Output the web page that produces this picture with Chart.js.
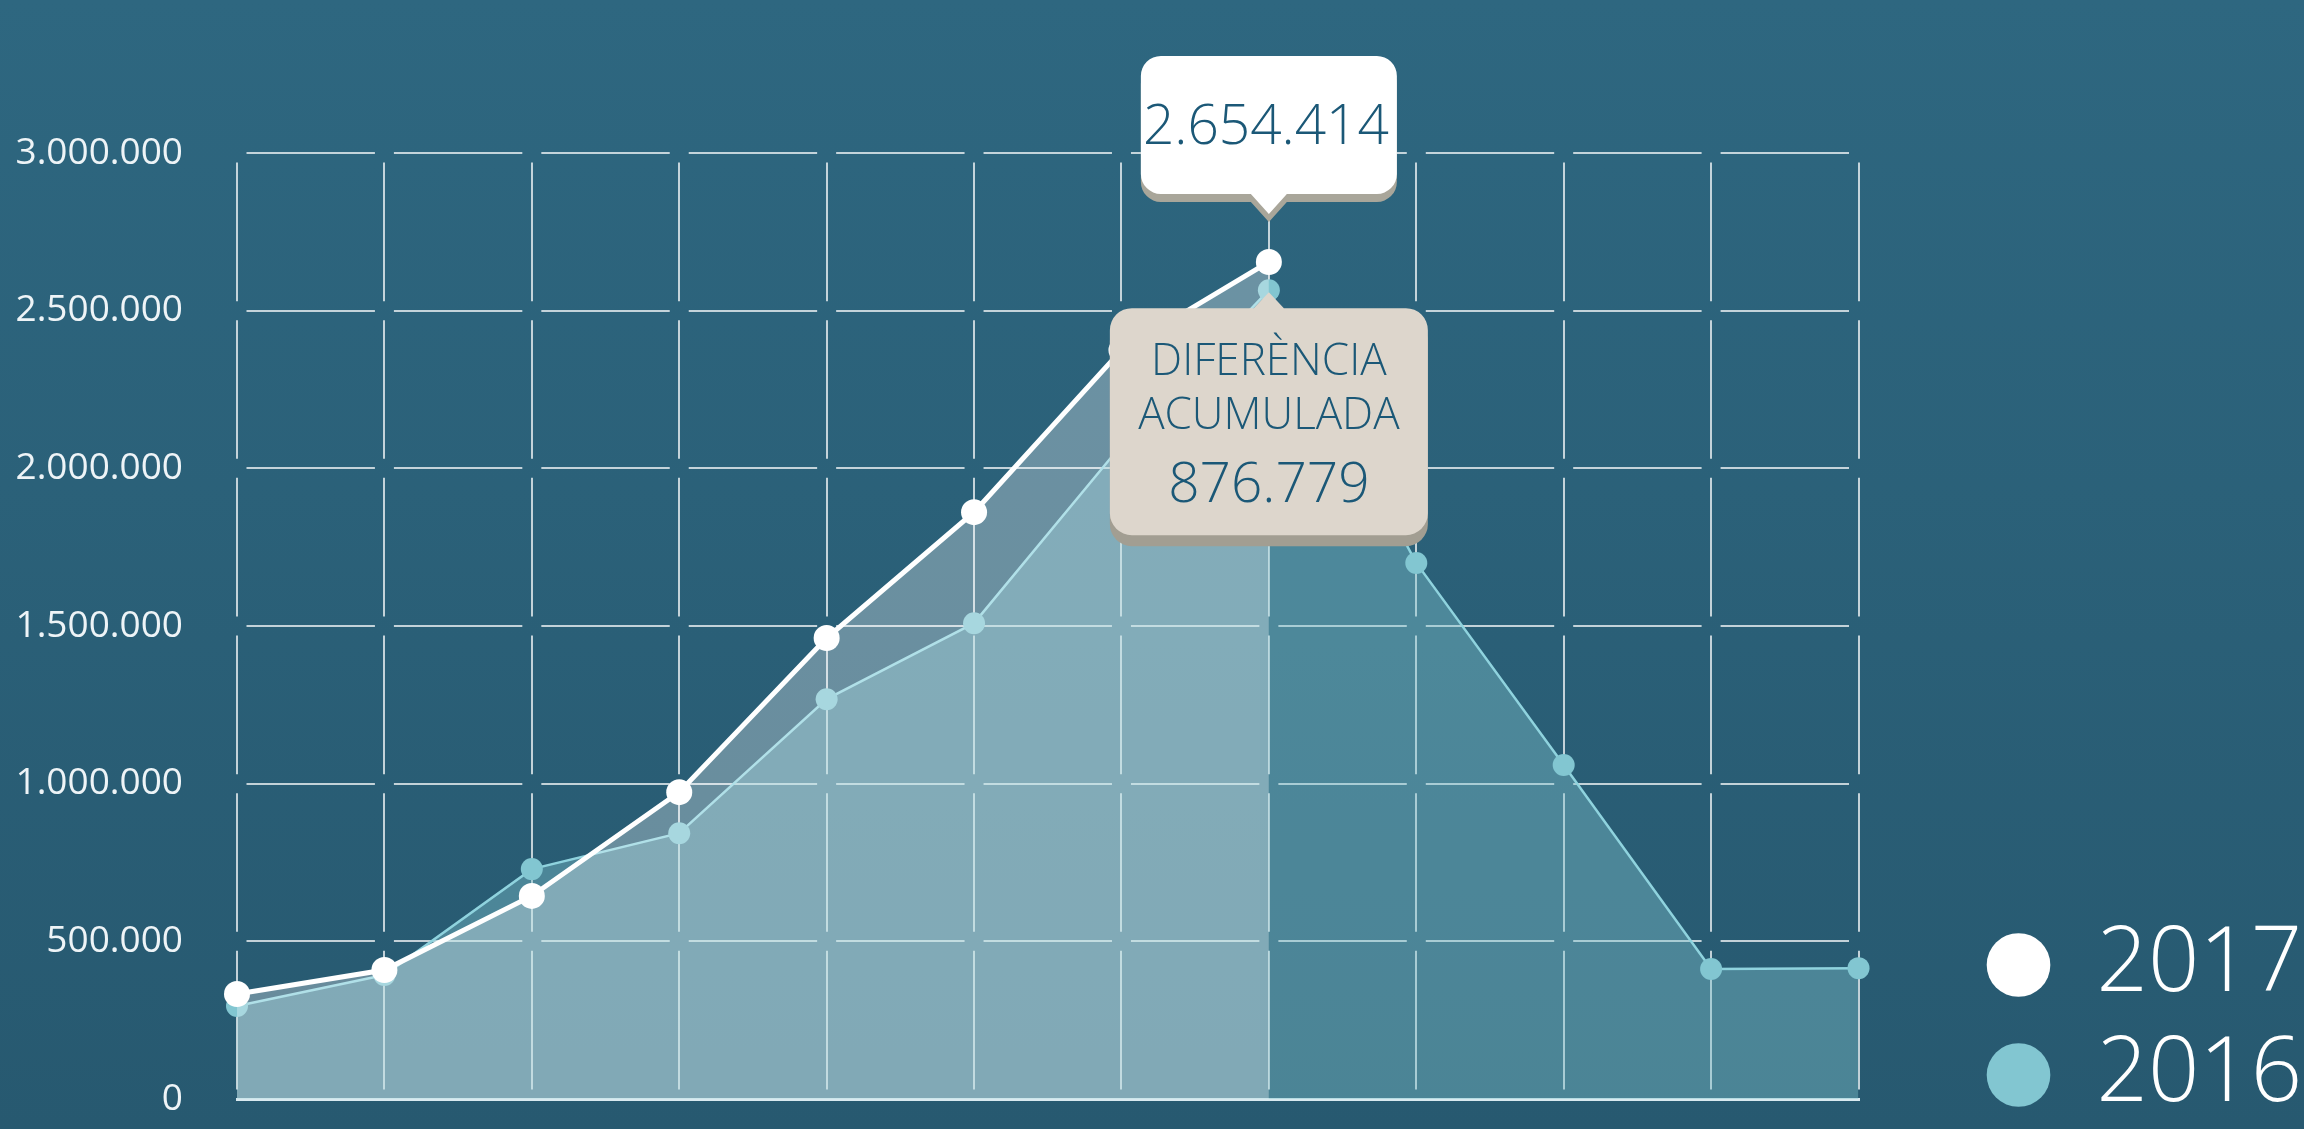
<!DOCTYPE html>
<html lang="ca">
<head>
<meta charset="UTF-8">
<title>Diferència acumulada 2017 / 2016</title>
<script src="https://cdn.jsdelivr.net/npm/chart.js"></script>
<style>
    html, body { margin: 0; padding: 0; overflow: hidden; }
    body { width: 2304px; height: 1129px; background: linear-gradient(180deg, #2e6780 0%, #275970 100%); }
    .grafic { position: relative; width: 2304px; height: 1129px; }
</style>
</head>
<body>
<div class="grafic"><canvas id="graficAcumulat"></canvas></div>
<script>
    // dades
    const mesos = ['Gen', 'Feb', 'Mar', 'Abr', 'Mai', 'Jun', 'Jul', 'Ago', 'Set', 'Oct', 'Nov', 'Des'];
    const valors2017 = [333000, 409000, 644000, 973000, 1462000, 1861000, 2375000, 2654414];
    const valors2016 = [295000, 393000, 729000, 843000, 1268000, 1509000, 2074000, 2565000, 1700000, 1059000, 412000, 415000];
    const ticksY = [0, 500000, 1000000, 1500000, 2000000, 2500000, 3000000];
    const etiquetaDiferencia = ['DIFERÈNCIA', 'ACUMULADA'];
    const diferenciaAcumulada = 876779;

    const colorText = '#1b5877';
    const colorGraella = 'rgba(255,255,255,0.72)';
    const buit = 19; // buit a les creus de la graella

    function formatNum(v) {
        return String(Math.round(v)).replace(/\B(?=(\d{3})+(?!\d))/g, '.');
    }

    // traç discontinu amb el buit centrat a cada creuament
    function dashGraella(chart, eix) {
        const s = chart.scales[eix];
        if (!s || !s.width) return [];
        const periode = eix === 'x'
            ? Math.abs(s.getPixelForValue(1) - s.getPixelForValue(0))
            : Math.abs(s.getPixelForValue(ticksY[0]) - s.getPixelForValue(ticksY[1]));
        return [periode - buit, buit];
    }
    function offsetGraella(chart, eix) {
        const d = dashGraella(chart, eix);
        return d.length ? d[0] + buit / 2 : 0;
    }

    function bafarada(ctx, cx, top, w, h, r, caretH, caretW, amunt) {
        const l = cx - w / 2, dr = cx + w / 2, b = top + h;
        ctx.beginPath();
        ctx.moveTo(l + r, top);
        if (amunt) {
            ctx.lineTo(cx - caretW, top);
            ctx.lineTo(cx, top - caretH);
            ctx.lineTo(cx + caretW, top);
        }
        ctx.lineTo(dr - r, top);
        ctx.arcTo(dr, top, dr, top + r, r);
        ctx.lineTo(dr, b - r);
        ctx.arcTo(dr, b, dr - r, b, r);
        if (!amunt) {
            ctx.lineTo(cx + caretW, b);
            ctx.lineTo(cx, b + caretH);
            ctx.lineTo(cx - caretW, b);
        }
        ctx.lineTo(l + r, b);
        ctx.arcTo(l, b, l, b - r, r);
        ctx.lineTo(l, top + r);
        ctx.arcTo(l, top, l + r, top, r);
        ctx.closePath();
    }

    const pluginBafarades = {
        id: 'bafarades',
        afterDraw(chart) {
            const ctx = chart.ctx;
            const idx = valors2017.length - 1;
            const p17 = chart.getDatasetMeta(0).data[idx];
            const p16 = chart.getDatasetMeta(1).data[idx];
            ctx.save();

            // valor 2017
            const w1 = 256, h1 = 138, c1 = 20;
            const top1 = p17.y - 48 - c1 - h1;
            ctx.fillStyle = '#a9a69a';
            bafarada(ctx, p17.x, top1 + 8, w1, h1, 20, c1, 18, false);
            ctx.fill();
            ctx.fillStyle = '#ffffff';
            bafarada(ctx, p17.x, top1, w1, h1, 20, c1, 18, false);
            ctx.fill();
            ctx.fillStyle = colorText;
            ctx.textAlign = 'center';
            ctx.textBaseline = 'middle';
            ctx.font = '300 55px "Open Sans"';
            ctx.fillText(formatNum(valors2017[idx]), p17.x - 3, top1 + h1 / 2 + 3);

            // diferencia acumulada
            const w2 = 318, h2 = 227, c2 = 16;
            const top2 = p16.y + 2 + c2;
            ctx.fillStyle = '#a29e92';
            bafarada(ctx, p16.x, top2 + 11, w2, h2, 22, c2, 15, true);
            ctx.fill();
            ctx.fillStyle = '#ddd6cc';
            bafarada(ctx, p16.x, top2, w2, h2, 22, c2, 15, true);
            ctx.fill();
            ctx.fillStyle = colorText;
            ctx.font = '300 44px "Open Sans"';
            ctx.fillText(etiquetaDiferencia[0], p16.x, top2 + 54);
            ctx.fillText(etiquetaDiferencia[1], p16.x, top2 + 108);
            ctx.font = '300 55px "Open Sans"';
            ctx.fillText(formatNum(diferenciaAcumulada), p16.x, top2 + 178);

            ctx.restore();
        }
    };

    Chart.defaults.font.family = '"Open Sans", "DejaVu Sans", sans-serif';

    new Chart(document.getElementById('graficAcumulat'), {
        type: 'line',
        data: {
            labels: mesos,
            datasets: [
                {
                    label: '2017',
                    data: valors2017,
                    borderColor: '#ffffff',
                    borderWidth: 5,
                    backgroundColor: 'rgba(255,255,255,0.3)',
                    fill: 'origin',
                    pointRadius: 13,
                    pointBackgroundColor: '#ffffff',
                    pointBorderWidth: 0,
                    clip: false
                },
                {
                    label: '2016',
                    data: valors2016,
                    borderColor: '#8fd3de',
                    borderWidth: 2.5,
                    backgroundColor: 'rgba(130,197,208,0.4)',
                    fill: 'origin',
                    pointRadius: 11,
                    pointBackgroundColor: '#82c6d1',
                    pointBorderWidth: 0,
                    clip: false
                }
            ]
        },
        options: {
            responsive: true,
            maintainAspectRatio: false,
            animation: false,
            events: [],
            layout: { padding: { left: 15, right: -8, top: 153, bottom: -11 } },
            scales: {
                x: {
                    grid: { color: colorGraella, lineWidth: 2, drawTicks: false },
                    border: {
                        display: true, color: '#d8e9ef', width: 3,
                        dash: c => dashGraella(c.chart, 'y'),
                        dashOffset: c => offsetGraella(c.chart, 'y')
                    },
                    ticks: { display: false },
                    afterFit(s) { s.height = 41; }
                },
                y: {
                    min: 0,
                    max: 3000000,
                    afterBuildTicks(s) { s.ticks = ticksY.map(v => ({ value: v })); },
                    afterFit(s) {
                        s.width = 222;
                        s.paddingTop = 0;
                        s.paddingBottom = 0;
                    },
                    grid: { color: colorGraella, lineWidth: 2, drawTicks: false },
                    border: {
                        display: false,
                        dash: c => dashGraella(c.chart, 'x'),
                        dashOffset: c => offsetGraella(c.chart, 'x')
                    },
                    ticks: {
                        color: '#eef4f7',
                        padding: 54,
                        font: { size: 37 },
                        callback: v => formatNum(v)
                    }
                },
                espai: {
                    type: 'linear',
                    position: 'right',
                    display: true,
                    grid: { display: false },
                    border: { display: false },
                    ticks: { display: false },
                    afterFit(s) { s.width = 107; }
                }
            },
            plugins: {
                tooltip: { enabled: false },
                legend: {
                    position: 'right',
                    align: 'end',
                    labels: {
                        usePointStyle: true,
                        pointStyle: 'circle',
                        boxWidth: 66,
                        boxHeight: 45,
                        padding: 20,
                        color: '#ffffff',
                        font: { size: 90, weight: '300' }
                    }
                }
            }
        },
        plugins: [pluginBafarades]
    });
</script>
</body>
</html>
